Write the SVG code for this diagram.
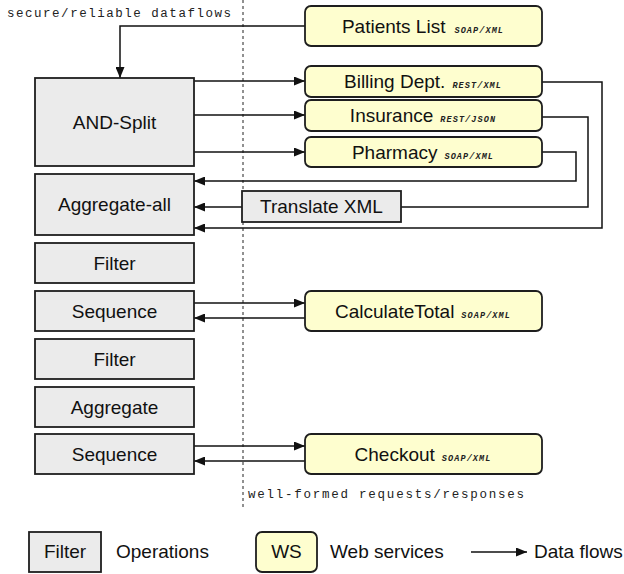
<svg xmlns="http://www.w3.org/2000/svg" width="624" height="574" viewBox="0 0 624 574">
<style>
.op{fill:#ebebeb;stroke:#1e1e1e;stroke-width:1.8}
.ws{fill:#fefecf;stroke:#1e1e1e;stroke-width:1.8}
.lbl{font-family:"Liberation Sans",Arial,Helvetica,sans-serif;font-size:19px;fill:#111}
.proto{font-family:"Liberation Mono","Courier New",monospace;font-size:8.5px;font-style:italic;font-weight:bold;letter-spacing:1.1px;fill:#222}
.mono{font-family:"Liberation Mono","Courier New",monospace;font-size:12.5px;fill:#222}
.ln{fill:none;stroke:#111;stroke-width:1.5}
.arr{marker-end:url(#ah)}
</style>
<defs>
<marker id="ah" markerUnits="userSpaceOnUse" markerWidth="11" markerHeight="9" refX="11" refY="4.5" orient="auto">
<path d="M0,0 L11,4.5 L0,9 z" fill="#111"/>
</marker>
</defs>
<rect width="624" height="574" fill="#fff"/>
<line x1="243" y1="0" x2="243" y2="510" stroke="#222" stroke-width="1" stroke-dasharray="3,3"/>
<text class="mono" x="7" y="17" textLength="224" lengthAdjust="spacing">secure/reliable dataflows</text>
<text class="mono" x="248" y="498" textLength="276" lengthAdjust="spacing">well-formed requests/responses</text>

<g id="connectors">
<path class="ln arr" d="M305,26 H120 V78"/>
<path class="ln arr" d="M194,81 H305"/>
<path class="ln arr" d="M194,115 H305"/>
<path class="ln arr" d="M194,152 H305"/>
<path class="ln arr" d="M542,82 H602 V228 H194"/>
<path class="ln arr" d="M542,152 H576 V181 H194"/>
<path class="ln" d="M542,117 H588 V207 H401"/>
<path class="ln arr" d="M242,207 H194"/>
<path class="ln arr" d="M194,303 H305"/>
<path class="ln arr" d="M305,318 H194"/>
<path class="ln arr" d="M194,446 H305"/>
<path class="ln arr" d="M305,461 H194"/>
</g>

<g id="and-split"><rect class="op" x="35" y="78" width="159" height="88"/><text class="lbl" x="114.5" y="128.5" text-anchor="middle">AND-Split</text></g>
<g id="aggregate-all"><rect class="op" x="35" y="174" width="159" height="61"/><text class="lbl" x="114.5" y="211" text-anchor="middle">Aggregate-all</text></g>
<g id="filter1"><rect class="op" x="35" y="243" width="159" height="40"/><text class="lbl" x="114.5" y="269.5" text-anchor="middle">Filter</text></g>
<g id="sequence1"><rect class="op" x="35" y="291" width="159" height="40"/><text class="lbl" x="114.5" y="317.5" text-anchor="middle">Sequence</text></g>
<g id="filter2"><rect class="op" x="35" y="339" width="159" height="40"/><text class="lbl" x="114.5" y="365.5" text-anchor="middle">Filter</text></g>
<g id="aggregate"><rect class="op" x="35" y="387" width="159" height="40"/><text class="lbl" x="114.5" y="413.5" text-anchor="middle">Aggregate</text></g>
<g id="sequence2"><rect class="op" x="35" y="434" width="159" height="40"/><text class="lbl" x="114.5" y="460.5" text-anchor="middle">Sequence</text></g>
<g id="translate-xml"><rect class="op" x="242" y="191" width="159" height="31"/><text class="lbl" x="321.5" y="213" text-anchor="middle">Translate XML</text></g>

<g id="patients-list"><rect class="ws" x="305" y="6" width="237" height="40" rx="6"/><text class="lbl" x="423" y="32.5" text-anchor="middle">Patients List<tspan class="proto" dx="9">SOAP/XML</tspan></text></g>
<g id="billing"><rect class="ws" x="305" y="66" width="237" height="31" rx="6"/><text class="lbl" x="423" y="88" text-anchor="middle">Billing Dept.<tspan class="proto" dx="7">REST/XML</tspan></text></g>
<g id="insurance"><rect class="ws" x="305" y="100" width="237" height="31" rx="6"/><text class="lbl" x="423" y="122" text-anchor="middle">Insurance<tspan class="proto" dx="7">REST/JSON</tspan></text></g>
<g id="pharmacy"><rect class="ws" x="305" y="137" width="237" height="30" rx="6"/><text class="lbl" x="423" y="158.5" text-anchor="middle">Pharmacy<tspan class="proto" dx="7">SOAP/XML</tspan></text></g>
<g id="calculate-total"><rect class="ws" x="305" y="291" width="237" height="40" rx="6"/><text class="lbl" x="423" y="317.5" text-anchor="middle">CalculateTotal<tspan class="proto" dx="7">SOAP/XML</tspan></text></g>
<g id="checkout"><rect class="ws" x="305" y="434" width="237" height="40" rx="6"/><text class="lbl" x="423" y="460.5" text-anchor="middle">Checkout<tspan class="proto" dx="7">SOAP/XML</tspan></text></g>

<g id="legend">
<rect class="op" x="29" y="532" width="72" height="40"/><text class="lbl" x="65" y="558" text-anchor="middle">Filter</text>
<text class="lbl" x="116" y="558">Operations</text>
<rect class="ws" x="256" y="532" width="61" height="40" rx="6"/><text class="lbl" x="286.5" y="558" text-anchor="middle">WS</text>
<text class="lbl" x="330" y="558">Web services</text>
<path class="ln arr" d="M471,552 H527"/>
<text class="lbl" x="534" y="558">Data flows</text>
</g>
</svg>
